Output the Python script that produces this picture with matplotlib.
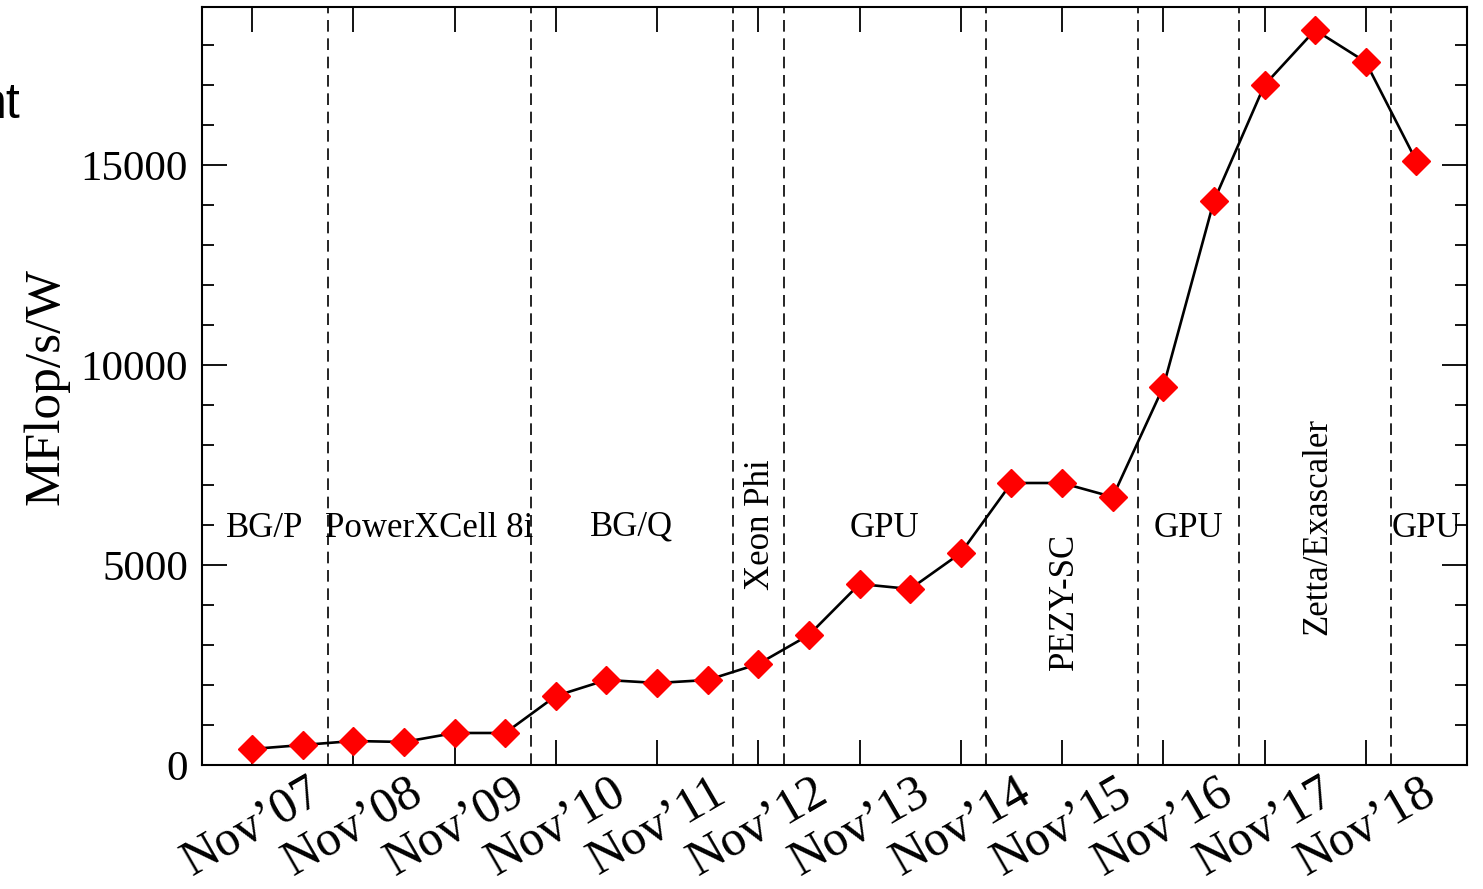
import numpy as np
from matplotlib import pyplot as plt
from matplotlib.ticker import MultipleLocator

# Green500 efficiency of the top system, one point per list (Nov'07 .. Jun'19)
list_index = np.arange(24)
mflops_per_watt = [400, 500, 600, 575, 800, 800, 1725, 2125, 2050, 2125,
                   2525, 3250, 4525, 4400, 5300, 7050, 7050, 6700, 9450,
                   14100, 17000, 18375, 17575, 15100]

tick_pos = np.arange(0, 24, 2)
tick_labels = ["Nov\u2019%02d" % y for y in range(7, 19)]

# boundaries between architecture eras
era_bounds = [1.5, 5.5, 9.5, 10.5, 14.5, 17.5, 19.5, 22.5]
era_names = ["BG/P", "PowerXCell 8i", "BG/Q", "Xeon Phi", "GPU", "PEZY-SC",
             "GPU", "Zetta/Exascaler", "GPU"]
era_x = [0.25, 3.5, 7.5, 10.05, 12.5, 16.05, 18.5, 21.05, 23.2]
era_y = [5900, 5900, 5950, 6000, 5900, 4100, 5900, 5950, 5900]
era_rot = [0, 0, 0, 90, 0, 90, 0, 90, 0]

serif = ["Liberation Serif", "DejaVu Serif"]

fig = plt.figure(figsize=(14.83, 8.89), dpi=100)
ax = fig.add_axes([0.1362, 0.1395, 0.9892 - 0.1362, 0.9921 - 0.1395])

for xb in era_bounds:
    ax.axvline(xb, color="black", lw=1.2, ls=(0, (7, 4)), zorder=1)

ax.plot(list_index, mflops_per_watt, color="black", lw=1.9, marker="D",
        ms=14, mfc="red", mec="red", zorder=3)

for name, x, y, r in zip(era_names, era_x, era_y, era_rot):
    ax.text(x, y, name, rotation=r, ha="center", va="center",
            fontsize=25, family=serif, zorder=2)

ax.set_xlim(-0.99, 24.0)
ax.set_ylim(0, 18950)
ax.set_xticks(tick_pos)
ax.set_xticklabels(tick_labels, rotation=30, ha="center", va="top",
                   fontsize=36, family=serif)
ax.yaxis.set_major_locator(MultipleLocator(5000))
ax.yaxis.set_minor_locator(MultipleLocator(1000))
for lab in ax.get_yticklabels():
    lab.set_family(serif)
ax.tick_params(axis="y", labelsize=31, pad=10)
ax.tick_params(axis="x", pad=3)
ax.tick_params(which="major", direction="in", length=18, width=1.3,
               top=True, right=True)
ax.tick_params(which="minor", direction="in", length=8.5, width=1.3,
               right=True)
for s in ax.spines.values():
    s.set_linewidth(1.5)

ax.set_ylabel("MFlop/s/W", fontsize=37, family=serif, labelpad=8)

# clipped slide text on the left edge
fig.text(0.0135, 0.867, "nt", ha="right", va="baseline", fontsize=36,
         family="Liberation Sans")

plt.savefig("out.png")
